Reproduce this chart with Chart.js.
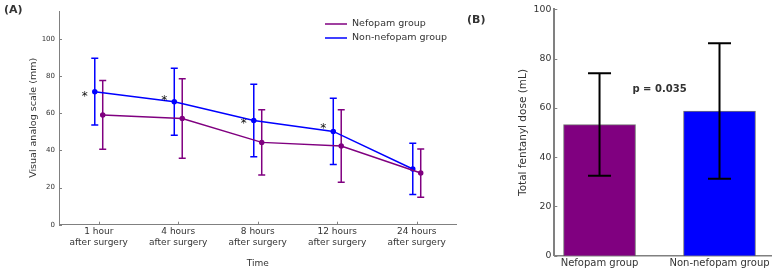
<!DOCTYPE html>
<html lang="en">
<head>
<meta charset="UTF-8">
<title>VAS and fentanyl dose</title>
<script src="https://cdn.jsdelivr.net/npm/chart.js"></script>
<style>
  body { margin: 0; background: #fff; }
  .wrap { position: relative; width: 773px; height: 273px; }
  #vasChart { position: absolute; left: 0; top: 0; }
  #doseChart { position: absolute; left: 460px; top: 0; }
</style>
</head>
<body>
<div class="wrap">
  <canvas id="vasChart" width="460" height="273"></canvas>
  <canvas id="doseChart" width="313" height="273"></canvas>
</div>
<script>
// Panel A - VAS over time
const timeLabels = [
  ['1 hour', 'after surgery'],
  ['4 hours', 'after surgery'],
  ['8 hours', 'after surgery'],
  ['12 hours', 'after surgery'],
  ['24 hours', 'after surgery']
];
const nefopamVas = [59.1, 57.2, 44.3, 42.3, 27.8];
const nefopamVasSd = [18.5, 21.4, 17.5, 19.5, 13.0];
const nonNefopamVas = [71.6, 66.2, 56.1, 50.2, 30.0];
const nonNefopamVasSd = [18.0, 18.0, 19.5, 17.8, 13.8];
const starIdx = [0, 1, 2, 3];
const starVas = [70.7, 68.6, 56.1, 53.9];
const vasTicks = [0, 20, 40, 60, 80, 100];

// Panel B - total fentanyl dose
const doseGroups = ['Nefopam group', 'Non-nefopam group'];
const doseMean = [53.2, 58.7];
const doseSd = [20.8, 27.5];
const doseTicks = [0, 20, 40, 60, 80, 100];
const pText = 'p = 0.035';

Chart.defaults.font.family = 'DejaVu Sans';
Chart.defaults.color = '#333';

const axisGray = '#808080';

function inwardTicks(chart, xVals, yVals) {
  const { ctx, chartArea, scales: { x, y } } = chart;
  ctx.save();
  ctx.strokeStyle = axisGray;
  ctx.lineWidth = 1;
  ctx.beginPath();
  yVals.forEach(v => {
    const py = Math.round(y.getPixelForValue(v)) + 0.5;
    ctx.moveTo(chartArea.left, py);
    ctx.lineTo(chartArea.left + 3, py);
  });
  xVals.forEach(v => {
    const px = Math.round(x.getPixelForValue(v)) + 0.5;
    ctx.moveTo(px, chartArea.bottom);
    ctx.lineTo(px, chartArea.bottom - 3);
  });
  ctx.stroke();
  ctx.restore();
}

const vasExtras = {
  id: 'vasExtras',
  beforeDatasetsDraw(chart) {
    const { ctx, scales: { x, y } } = chart;
    chart.data.datasets.forEach(ds => {
      ctx.save();
      ctx.strokeStyle = ds.borderColor;
      ctx.lineWidth = 1.5;
      ds.data.forEach(p => {
        const px = x.getPixelForValue(p.x);
        const top = y.getPixelForValue(p.y + p.sd);
        const bot = y.getPixelForValue(p.y - p.sd);
        ctx.beginPath();
        ctx.moveTo(px, top); ctx.lineTo(px, bot);
        ctx.moveTo(px - 3.5, top); ctx.lineTo(px + 3.5, top);
        ctx.moveTo(px - 3.5, bot); ctx.lineTo(px + 3.5, bot);
        ctx.stroke();
      });
      ctx.restore();
    });
  },
  afterDraw(chart) {
    const { ctx, scales: { x, y } } = chart;
    inwardTicks(chart, timeLabels.map((_, i) => i), vasTicks);

    // significance stars
    ctx.save();
    ctx.fillStyle = '#111';
    ctx.font = '12px "DejaVu Sans"';
    ctx.textAlign = 'center';
    ctx.textBaseline = 'alphabetic';
    starIdx.forEach((idx, i) => {
      ctx.fillText('*', x.getPixelForValue(idx - 0.175), y.getPixelForValue(starVas[i]) + 7);
    });

    // legend
    ctx.font = '9.5px "DejaVu Sans"';
    ctx.textAlign = 'left';
    ctx.textBaseline = 'middle';
    chart.data.datasets.forEach((ds, i) => {
      const ly = 24 + i * 14;
      ctx.strokeStyle = ds.borderColor;
      ctx.lineWidth = 1.5;
      ctx.beginPath();
      ctx.moveTo(325, ly); ctx.lineTo(347, ly);
      ctx.stroke();
      ctx.fillStyle = '#333';
      ctx.fillText(ds.label, 352, ly);
    });

    ctx.font = 'bold 11px "DejaVu Sans"';
    ctx.fillStyle = '#333';
    ctx.fillText('(A)', 4, 10);
    ctx.restore();
  }
};

new Chart(document.getElementById('vasChart'), {
  type: 'scatter',
  data: {
    datasets: [
      {
        label: 'Nefopam group',
        data: nefopamVas.map((v, i) => ({ x: i + 0.05, y: v, sd: nefopamVasSd[i] })),
        borderColor: '#800080',
        backgroundColor: '#800080',
        showLine: true,
        borderWidth: 1.5,
        pointRadius: 2,
        pointHoverRadius: 2
      },
      {
        label: 'Non-nefopam group',
        data: nonNefopamVas.map((v, i) => ({ x: i - 0.05, y: v, sd: nonNefopamVasSd[i] })),
        borderColor: '#0000ff',
        backgroundColor: '#0000ff',
        showLine: true,
        borderWidth: 1.5,
        pointRadius: 2,
        pointHoverRadius: 2
      }
    ]
  },
  options: {
    responsive: false,
    animation: false,
    events: [],
    layout: { padding: { top: 11, right: 3, left: 0, bottom: 0 } },
    plugins: { legend: { display: false }, tooltip: { enabled: false } },
    scales: {
      x: {
        type: 'linear',
        min: -0.5,
        max: 4.5,
        afterBuildTicks: s => { s.ticks = timeLabels.map((_, i) => ({ value: i })); },
        ticks: { callback: v => timeLabels[v], maxRotation: 0, autoSkip: false, padding: 2, font: { size: 9 } },
        grid: { display: false, drawTicks: false },
        border: { color: axisGray, width: 1 },
        title: { display: true, text: 'Time', font: { size: 9 }, padding: { top: 0, bottom: 4 } },
        afterFit: s => { s.height = 48.3; }
      },
      y: {
        min: 0,
        max: 115,
        afterBuildTicks: s => { s.ticks = vasTicks.map(v => ({ value: v })); },
        ticks: { font: { size: 7 }, padding: 4 },
        grid: { display: false, drawTicks: false },
        border: { color: axisGray, width: 1 },
        title: { display: true, text: 'Visual analog scale (mm)', font: { size: 9.5 }, padding: { top: 28, bottom: 0 } },
        afterFit: s => { s.width = 59; }
      }
    }
  },
  plugins: [vasExtras]
});

const doseExtras = {
  id: 'doseExtras',
  afterDatasetsDraw(chart) {
    const { ctx, scales: { x, y } } = chart;
    ctx.save();
    ctx.strokeStyle = '#000';
    ctx.lineWidth = 2;
    doseMean.forEach((m, i) => {
      const px = x.getPixelForValue(i);
      const top = y.getPixelForValue(m + doseSd[i]);
      const bot = y.getPixelForValue(m - doseSd[i]);
      ctx.beginPath();
      ctx.moveTo(px, top); ctx.lineTo(px, bot);
      ctx.moveTo(px - 11.5, top); ctx.lineTo(px + 11.5, top);
      ctx.moveTo(px - 11.5, bot); ctx.lineTo(px + 11.5, bot);
      ctx.stroke();
    });
    ctx.restore();
  },
  afterDraw(chart) {
    const { ctx, scales: { x, y } } = chart;
    inwardTicks(chart, [], doseTicks);
    ctx.save();
    ctx.fillStyle = '#333';
    ctx.font = 'bold 10px "DejaVu Sans"';
    ctx.textAlign = 'center';
    ctx.textBaseline = 'middle';
    ctx.fillText(pText, x.getPixelForValue(0.5), y.getPixelForValue(67.5));
    ctx.font = 'bold 11px "DejaVu Sans"';
    ctx.textAlign = 'left';
    ctx.fillText('(B)', 7, 20);
    ctx.restore();
  }
};

new Chart(document.getElementById('doseChart'), {
  type: 'bar',
  data: {
    datasets: [{
      data: doseMean.map((v, i) => ({ x: i, y: v })),
      backgroundColor: ['#800080', '#0000ff'],
      borderColor: 'rgba(0, 0, 0, 0.55)',
      borderWidth: 1,
      barThickness: 72
    }]
  },
  options: {
    responsive: false,
    animation: false,
    events: [],
    layout: { padding: { top: 9.3, right: 1.3, left: 0, bottom: 0 } },
    plugins: { legend: { display: false }, tooltip: { enabled: false } },
    scales: {
      x: {
        type: 'linear',
        offset: false,
        min: -0.377,
        max: 1.435,
        afterBuildTicks: s => { s.ticks = doseGroups.map((_, i) => ({ value: i })); },
        ticks: { callback: v => doseGroups[v], maxRotation: 0, autoSkip: false, padding: 2, font: { size: 10 } },
        grid: { display: false, drawTicks: false },
        border: { color: axisGray, width: 1.5 },
        afterFit: s => { s.height = 17.3; }
      },
      y: {
        min: 0,
        max: 100,
        afterBuildTicks: s => { s.ticks = doseTicks.map(v => ({ value: v })); },
        ticks: { font: { size: 9.3 }, padding: 3 },
        grid: { display: false, drawTicks: false },
        border: { color: axisGray, width: 2 },
        title: { display: true, text: 'Total fentanyl dose (mL)', font: { size: 10.5 }, padding: { top: 57, bottom: 0 } },
        afterFit: s => { s.width = 94.3; }
      }
    }
  },
  plugins: [doseExtras]
});
</script>
</body>
</html>
